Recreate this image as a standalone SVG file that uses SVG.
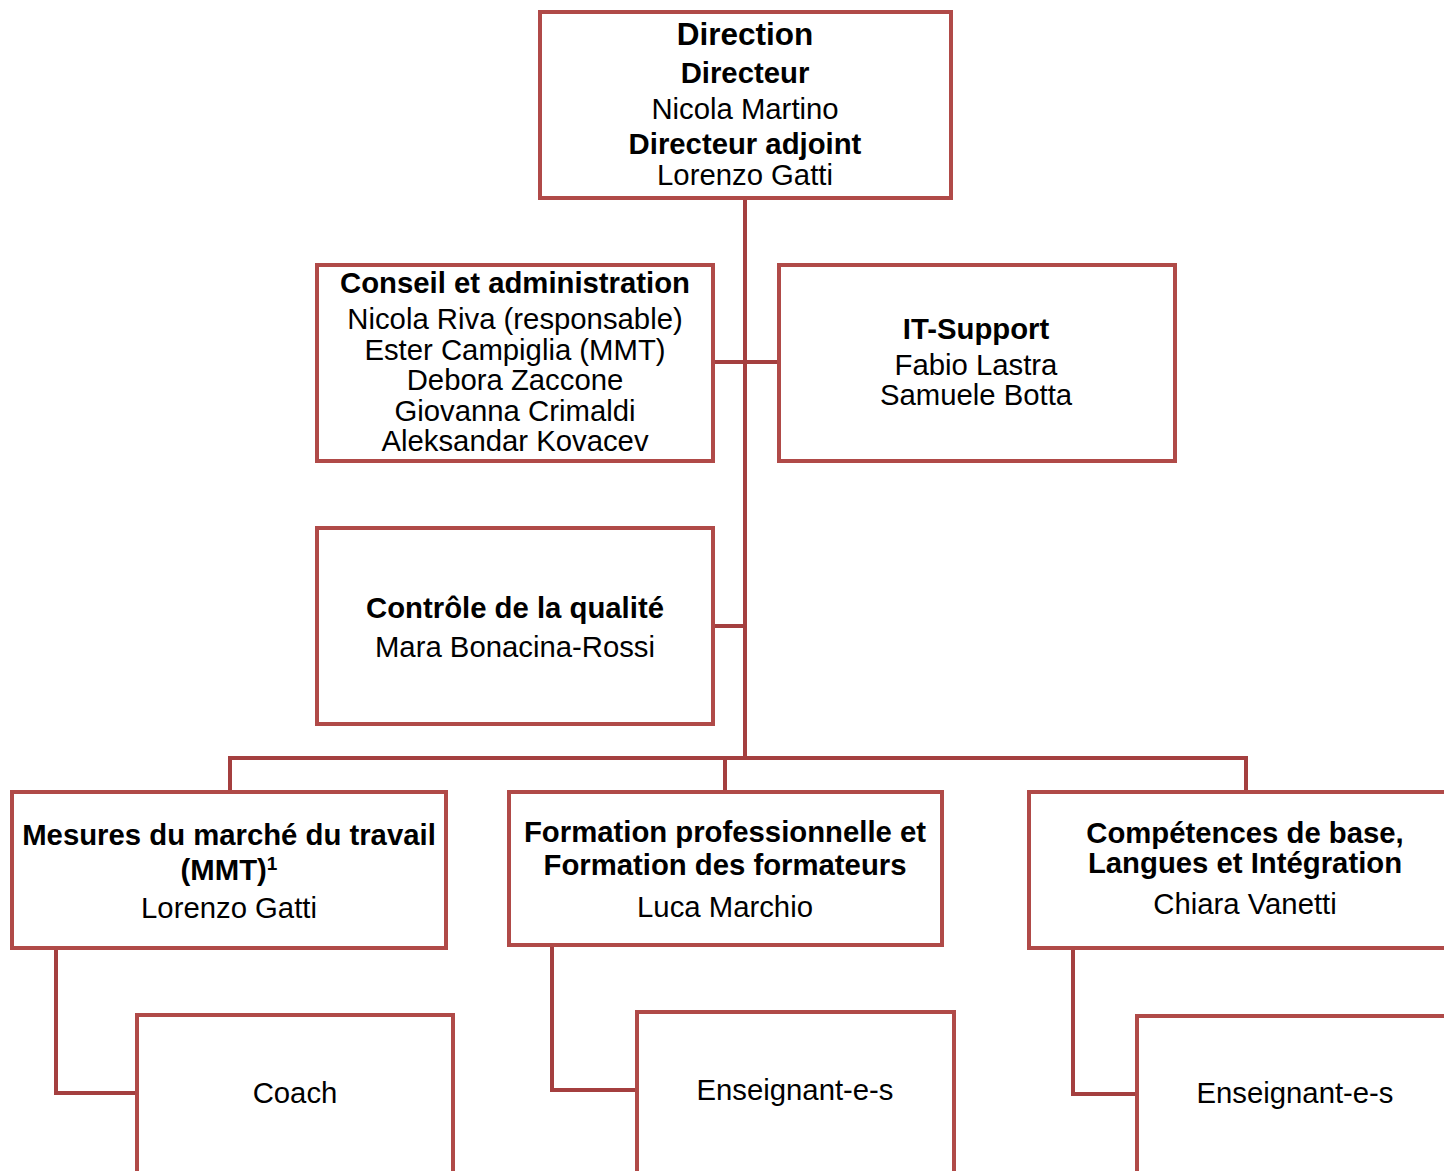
<svg xmlns="http://www.w3.org/2000/svg" width="1444" height="1171" viewBox="0 0 1444 1171">
<style>
.box{fill:#fff;stroke:#b04a48;stroke-width:4}
.con{fill:none;stroke:#a43f3f;stroke-width:4}
text{font-family:"Liberation Sans",Arial,sans-serif;font-size:29.3px;fill:#000;text-anchor:middle}
.b{font-weight:bold}
</style>
<rect width="1444" height="1171" fill="#fff"/>
<g id="connectors">
<path class="con" d="M745,198 V758"/>
<path class="con" d="M713,362 H779"/>
<path class="con" d="M713,626 H745"/>
<path class="con" d="M230,792 V758 H1246 V792"/>
<path class="con" d="M725,758 V792"/>
<path class="con" d="M56,948 V1093 H137"/>
<path class="con" d="M552,945 V1090 H637"/>
<path class="con" d="M1073,948 V1094 H1137"/>
</g>
<g id="direction">
<rect class="box" x="540" y="12" width="411" height="186"/>
<text class="b" x="745" y="45" style="font-size:31.5px">Direction</text>
<text class="b" x="745" y="83">Directeur</text>
<text x="745" y="119">Nicola Martino</text>
<text class="b" x="745" y="154">Directeur adjoint</text>
<text x="745" y="185">Lorenzo Gatti</text>
</g>
<g id="conseil">
<rect class="box" x="317" y="265" width="396" height="196"/>
<text class="b" x="515" y="293">Conseil et administration</text>
<text x="515" y="329">Nicola Riva (responsable)</text>
<text x="515" y="360">Ester Campiglia (MMT)</text>
<text x="515" y="390">Debora Zaccone</text>
<text x="515" y="421">Giovanna Crimaldi</text>
<text x="515" y="451">Aleksandar Kovacev</text>
</g>
<g id="it-support">
<rect class="box" x="779" y="265" width="396" height="196"/>
<text class="b" x="976" y="339">IT-Support</text>
<text x="976" y="375">Fabio Lastra</text>
<text x="976" y="405">Samuele Botta</text>
</g>
<g id="controle">
<rect class="box" x="317" y="528" width="396" height="196"/>
<text class="b" x="515" y="618">Contrôle de la qualité</text>
<text x="515" y="657">Mara Bonacina-Rossi</text>
</g>
<g id="mmt">
<rect class="box" x="12" y="792" width="434" height="156"/>
<text class="b" x="229" y="845">Mesures du marché du travail</text>
<text class="b" x="229" y="880">(MMT)<tspan dy="-10" style="font-size:19px">1</tspan></text>
<text x="229" y="918">Lorenzo Gatti</text>
</g>
<g id="formation">
<rect class="box" x="509" y="792" width="433" height="153"/>
<text class="b" x="725" y="842">Formation professionnelle et</text>
<text class="b" x="725" y="875">Formation des formateurs</text>
<text x="725" y="917">Luca Marchio</text>
</g>
<g id="competences">
<rect class="box" x="1029" y="792" width="440" height="156"/>
<text class="b" x="1245" y="843">Compétences de base,</text>
<text class="b" x="1245" y="873">Langues et Intégration</text>
<text x="1245" y="914">Chiara Vanetti</text>
</g>
<g id="coach">
<rect class="box" x="137" y="1015" width="316" height="180"/>
<text x="295" y="1103">Coach</text>
</g>
<g id="enseignants-formation">
<rect class="box" x="637" y="1012" width="317" height="180"/>
<text x="795" y="1100">Enseignant-e-s</text>
</g>
<g id="enseignants-competences">
<rect class="box" x="1137" y="1016" width="340" height="180"/>
<text x="1295" y="1103">Enseignant-e-s</text>
</g>
</svg>
